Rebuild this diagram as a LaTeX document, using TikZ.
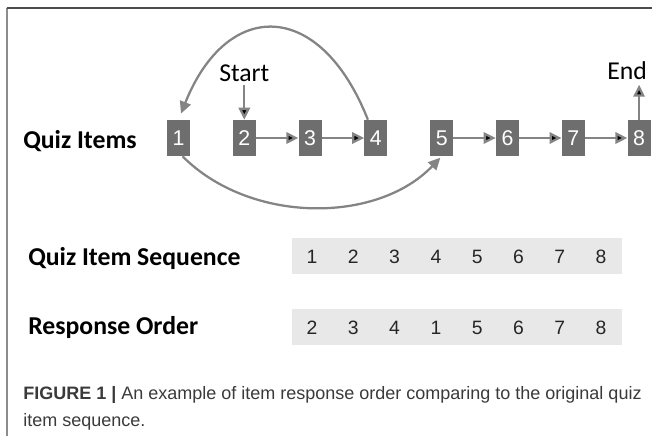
\documentclass[tikz,border=0pt]{standalone}
\usepackage{fontspec}
\setmainfont{Carlito}
\setsansfont{Liberation Sans}
\usetikzlibrary{arrows.meta,positioning}
\definecolor{boxgray}{HTML}{6E6E6E}
\definecolor{arrowgray}{HTML}{848484}
\definecolor{bandgray}{HTML}{E8E8E8}
\definecolor{capgray}{HTML}{3A3A3A}
\tikzset{%
itembox/.style={rectangle, fill=boxgray, text=white, inner sep=0pt, minimum width=17.25pt, minimum height=27pt, font=\sffamily\fontsize{16}{18}\selectfont},
flow/.style={draw=arrowgray, line width=1.7pt, -{Triangle[length=9pt,width=8.5pt]}},
rowlabel/.style={anchor=base west, inner sep=0pt, font=\bfseries\fontsize{19.3}{23}\selectfont},
band/.style={rectangle, fill=bandgray, inner sep=0pt, minimum width=247.5pt, minimum height=27pt},
seqnum/.style={inner sep=0pt, text=black!85, font=\sffamily\fontsize{14.5}{16}\selectfont}
}
\begin{document}
\begin{tikzpicture}[x=0.75pt, y=-0.75pt, node distance=31.7pt]
	\useasboundingbox (0,0) rectangle (652,436);
	% frame
	\draw[draw=gray!90, line width=1.5pt] (7,436) -- (7,8);
	\draw[draw=black!70, line width=1.2pt] (6.5,8) -- (652,8);

	\node[rowlabel] (quiz) at (23,148) {Quiz Items};
	\node[itembox] (one) at (178.5,138) {1};
	\node[itembox] (two) [right=of one] {2};
	\node[itembox] (three) [right=of two] {3};
	\node[itembox] (four) [right=of three] {4};
	\node[itembox] (five) [right=of four] {5};
	\node[itembox] (six) [right=of five] {6};
	\node[itembox] (seven) [right=of six] {7};
	\node[itembox] (eight) [right=of seven] {8};
	\node[inner sep=0pt, font=\fontsize{19.3}{23}\selectfont] (start) [above=28pt of two] {Start};
	\node[inner sep=0pt, font=\fontsize{19.3}{23}\selectfont] (end) [above=30pt of eight, xshift=-9pt] {End};
	\coordinate (endtip) at ([yshift=26.25pt]eight.north);

	\path[flow] (start) edge [shorten <=2pt] (two);
	\path[flow] (two) edge (three);
	\path[flow] (three) edge (four);
	\path[flow] (five) edge (six);
	\path[flow] (six) edge (seven);
	\path[flow] (seven) edge (eight);
	\path[flow] (eight) edge (endtip);
	\draw[flow, shorten >=5pt] ([xshift=-6pt]four.north) .. controls (320,-1.5) and (227,-1.5) .. (one.north);
	\draw[flow, shorten >=1.5pt] ([xshift=3pt]one.south) .. controls (250,224) and (377,224) .. (five.south);

	% sequences
	\node[rowlabel] (seqlabel) at (28,265) {Quiz Item Sequence};
	\node[rowlabel] (resplabel) at (28,334) {Response Order};
	\node[band] (seqband) at (457,256) {};
	\node[band] (respband) at (457,327) {};
	\foreach \d [count=\i] in {1,2,3,4,5,6,7,8}
		\node[seqnum] (seq\i) at ({312+41.3*(\i-1)},257) {\d};
	\foreach \d [count=\i] in {2,3,4,1,5,6,7,8}
		\node[seqnum] (resp\i) at ({312+41.3*(\i-1)},328) {\d};

	\node[anchor=base west, align=left, inner sep=0pt, text=capgray, font=\sffamily\fontsize{13.5}{20.25}\selectfont] (caption) at (23,426) {\textbf{FIGURE 1 |} An example of item response order comparing to the original quiz\\item sequence.};
\end{tikzpicture}
\end{document}
